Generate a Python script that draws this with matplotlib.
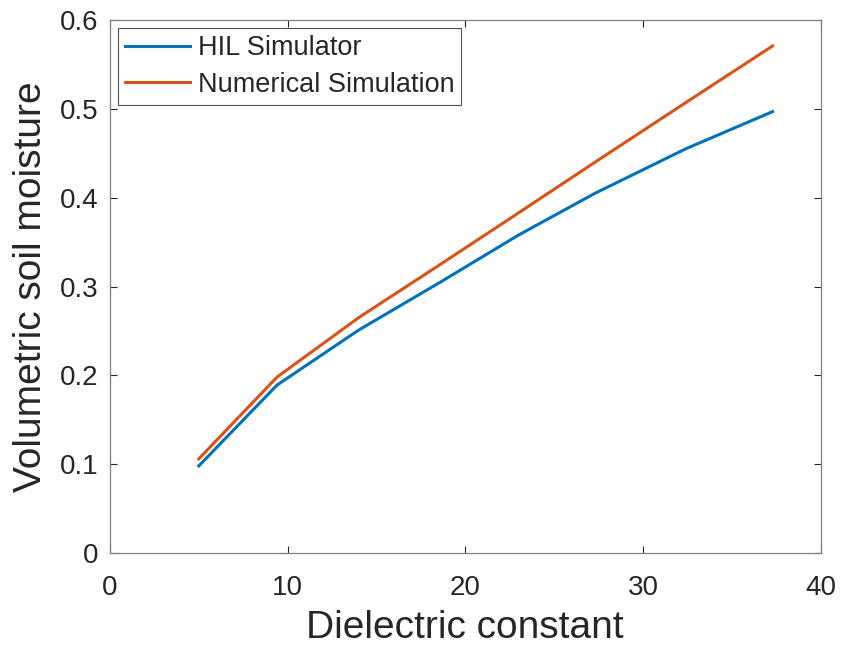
import matplotlib
matplotlib.use("Agg")
from matplotlib import pyplot as plt

plt.rcParams["font.family"] = ["Liberation Sans", "DejaVu Sans"]

dielectric = [5, 9.4, 14, 18.6, 23, 27.3, 32.4, 37.3]
hil_moisture = [0.098, 0.189, 0.251, 0.305, 0.358, 0.405, 0.455, 0.497]
num_moisture = [0.106, 0.198, 0.265, 0.325, 0.383, 0.440, 0.507, 0.571]

x_ticks = [0, 10, 20, 30, 40]
y_ticks = [0, 0.1, 0.2, 0.3, 0.4, 0.5, 0.6]

axis_gray = "#262626"

fig = plt.figure(figsize=(8.46, 6.49), dpi=100)
ax = fig.add_axes([0.130, 0.148, 0.840, 0.821])

ax.plot(dielectric, hil_moisture, color="#0072BD", lw=2.2, label="HIL Simulator")
ax.plot(dielectric, num_moisture, color="#D95319", lw=2.2, label="Numerical Simulation")

ax.set_xlim(0, 40)
ax.set_ylim(0, 0.6)
ax.set_xticks(x_ticks)
ax.set_yticks(y_ticks)
ax.set_yticklabels(["0", "0.1", "0.2", "0.3", "0.4", "0.5", "0.6"])
ax.tick_params(direction="in", length=5, width=0.8, colors=axis_gray,
               labelsize=20, top=True, right=True, pad=8)
ax.tick_params(axis="x", pad=16)
for s in ax.spines.values():
    s.set_color("#7f7f7f")
    s.set_linewidth(0.9)

ax.set_xlabel("Dielectric constant", fontsize=28, color=axis_gray, labelpad=6)
ax.set_ylabel("Volumetric soil moisture", fontsize=28, color=axis_gray, labelpad=8)

leg = ax.legend(loc="upper left", fontsize=19.5, frameon=True, fancybox=False,
                edgecolor="#262626", handlelength=2.4, borderaxespad=0.3,
                borderpad=0.25, labelspacing=0.4, handletextpad=0.3)
leg.get_frame().set_linewidth(0.8)
for t in leg.get_texts():
    t.set_color(axis_gray)

plt.savefig("out.png", dpi=100)
